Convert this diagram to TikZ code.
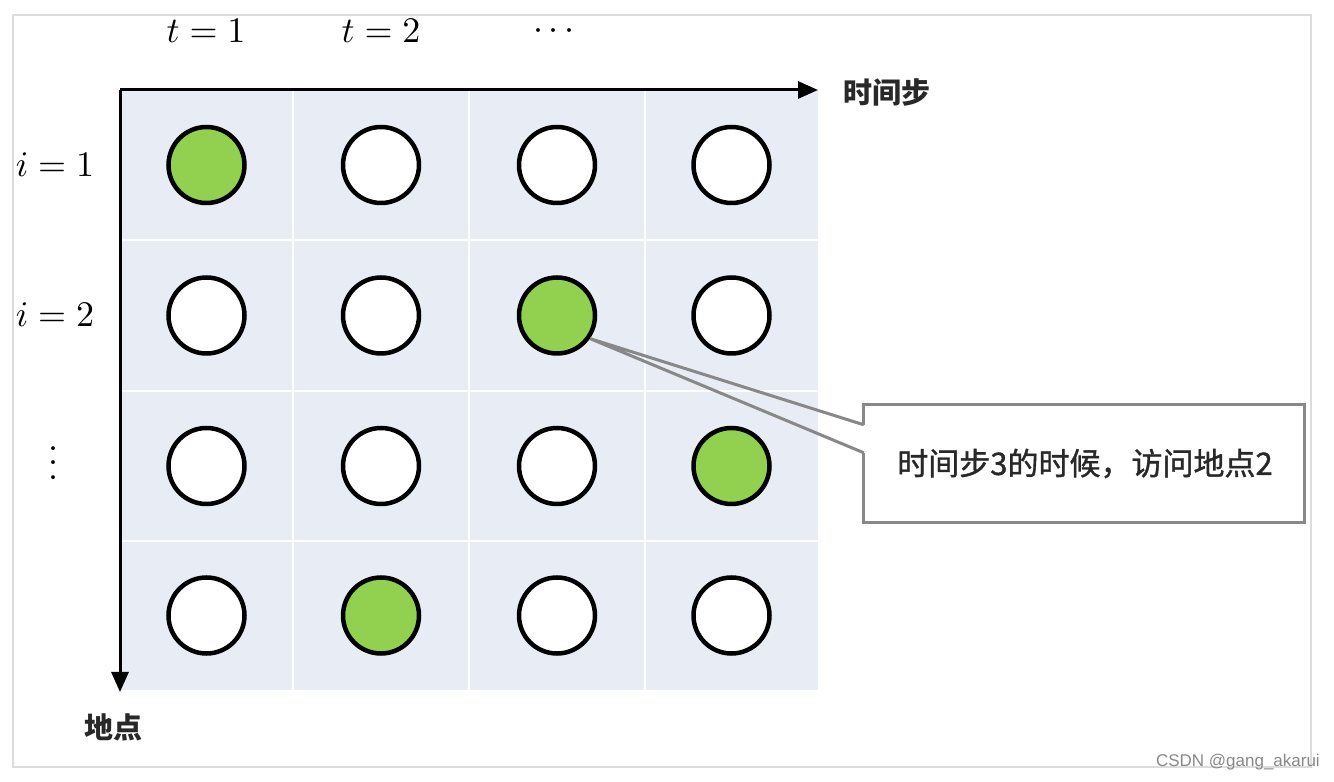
\documentclass[tikz,border=0pt]{standalone}
\usepackage{fontspec}
\newfontfamily\cjk{Noto Sans CJK SC}
\newfontfamily\cjkmed{Noto Sans CJK SC}[FakeBold=1.2]
\newfontfamily\wmfont{Liberation Sans}
\usetikzlibrary{arrows.meta,calc}
\definecolor{cellbg}{RGB}{232,236,245}
\definecolor{visit}{RGB}{146,208,80}
\definecolor{frame}{RGB}{220,220,220}
\definecolor{callgray}{RGB}{136,136,136}
\definecolor{txt}{RGB}{40,40,40}
\tikzset{
  dot/.style={circle,draw=black,line width=4.5pt,minimum size=76pt,inner sep=0pt,fill=white},
  visited/.style={dot,fill=visit},
  mathlbl/.style={inner sep=0pt,scale=3.6},
  axis/.style={line width=3pt,-{Triangle[length=20pt,width=17pt]}},
  axlbl/.style={font=\cjk\bfseries\fontsize{29}{34}\selectfont,text=txt,inner sep=0pt},
  calloutline/.style={draw=callgray,line width=3pt},
}
\begin{document}
\begin{tikzpicture}[x=1pt,y=1pt]
\useasboundingbox (0,0) rectangle (1334,782);
% outer frame
\draw[frame,line width=2pt] (13,15) rectangle (1311,767);
% grid background
\fill[cellbg] (120,92) rectangle (818,692);
\foreach \x in {293,469,645} \draw[white,line width=2pt] (\x,92) -- (\x,692);
\foreach \y in {542,391,241} \draw[white,line width=2pt] (120,\y) -- (818,\y);
% axes
\coordinate (origin) at (120,692);
\coordinate (xend) at (818,692);
\coordinate (yend) at (120,90);
\draw[axis] (origin) -- (xend);
\draw[axis] (origin) -- (yend);
% circles
\node[visited] (c11) at (206.5,617) {};
\node[dot] (c12) at (381,617) {};
\node[dot] (c13) at (557,617) {};
\node[dot] (c14) at (731.5,617) {};
\node[dot] (c21) at (206.5,466.5) {};
\node[dot] (c22) at (381,466.5) {};
\node[visited] (c23) at (557,466.5) {};
\node[dot] (c24) at (731.5,466.5) {};
\node[dot] (c31) at (206.5,316) {};
\node[dot] (c32) at (381,316) {};
\node[dot] (c33) at (557,316) {};
\node[visited] (c34) at (731.5,316) {};
\node[dot] (c41) at (206.5,166.5) {};
\node[visited] (c42) at (381,166.5) {};
\node[dot] (c43) at (557,166.5) {};
\node[dot] (c44) at (731.5,166.5) {};
% column labels
\node[mathlbl] (t1) at (206,751) {$t=1$};
\node[mathlbl] (t2) at (381,751) {$t=2$};
\node[mathlbl,anchor=base] (tdots) at (554,742) {$\cdots$};
% row labels
\node[mathlbl] (i1) at (55,617) {$i=1$};
\node[mathlbl] (i2) at (55,467) {$i=2$};
\node[mathlbl] (idots) at (54,330) {$\vdots$};
% axis labels
\node[axlbl,anchor=west] (xlbl) at (843,689) {时间步};
\node[axlbl,anchor=west] (ylbl) at (84,55) {地点};
% callout
\node[font=\cjkmed\fontsize{31}{36}\selectfont,text=txt,minimum width=440pt,minimum height=117pt,inner sep=0pt] (callout) at (1084,318.5) {\hspace*{2pt}时间步3的时候，访问地点2};
\coordinate (p1) at ($(callout.north west)+(0,-20)$);
\coordinate (p2) at ($(callout.north west)+(0,-48)$);
\coordinate (tip) at (c23.-35);
\draw[calloutline,line join=miter] (p1) -- (callout.north west) -- (callout.north east) -- (callout.south east) -- (callout.south west) -- (p2);
\draw[calloutline] (p1) -- (tip) -- (p2);
% watermark
\node[font=\wmfont\fontsize{17}{20}\selectfont,text=callgray,anchor=east,inner sep=0pt] (wm) at (1320,20) {CSDN @gang\_akarui};
\end{tikzpicture}
\end{document}
